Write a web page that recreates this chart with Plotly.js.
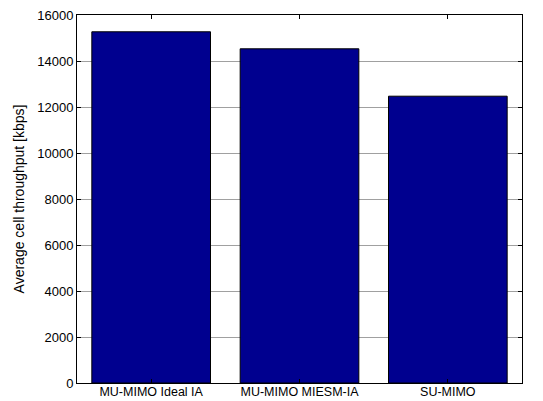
<!DOCTYPE html>
<html><head><meta charset="utf-8">
<script src="https://cdn.plot.ly/plotly-3.0.1.min.js"></script>
<style>html,body{margin:0;padding:0;background:#fff}</style>
</head><body>
<div id="chart" style="width:543px;height:401px"></div>
<script>
const categories = ["MU-MIMO Ideal IA", "MU-MIMO MIESM-IA", "SU-MIMO"];
const throughput = [15270, 14530, 12470];
const yTicks = [0, 2000, 4000, 6000, 8000, 10000, 12000, 14000, 16000];

Plotly.newPlot('chart', [{
  type: 'bar',
  x: categories,
  y: throughput,
  width: 0.8,
  marker: {color: '#00008f', line: {color: '#000', width: 1}},
  hoverinfo: 'skip'
}], {
  width: 543, height: 401,
  margin: {l: 77, r: 21, t: 15, b: 18},
  paper_bgcolor: '#fff', plot_bgcolor: '#fff',
  font: {family: 'Liberation Sans, Arial, sans-serif', size: 13, color: '#000'},
  showlegend: false,
  bargap: 0.2,
  xaxis: {
    range: [-0.5, 2.5],
    showline: true, linecolor: '#000', linewidth: 1, mirror: 'ticks',
    ticks: 'inside', ticklen: 4, tickcolor: '#000',
    showgrid: false, zeroline: false,
    ticklabelstandoff: -3,
    tickfont: {size: 12.5}
  },
  yaxis: {
    range: [0, 16000],
    tickvals: yTicks,
    ticktext: yTicks.map(String),
    showline: true, linecolor: '#000', linewidth: 1, mirror: 'ticks',
    ticks: 'inside', ticklen: 4, tickcolor: '#000',
    showgrid: true, gridcolor: '#a0a0a0', gridwidth: 1,
    zeroline: false,
    title: {text: 'Average cell throughput [kbps]', font: {size: 14}, standoff: 9},
    tickfont: {size: 13}
  }
}, {staticPlot: true});
</script>
</body></html>
